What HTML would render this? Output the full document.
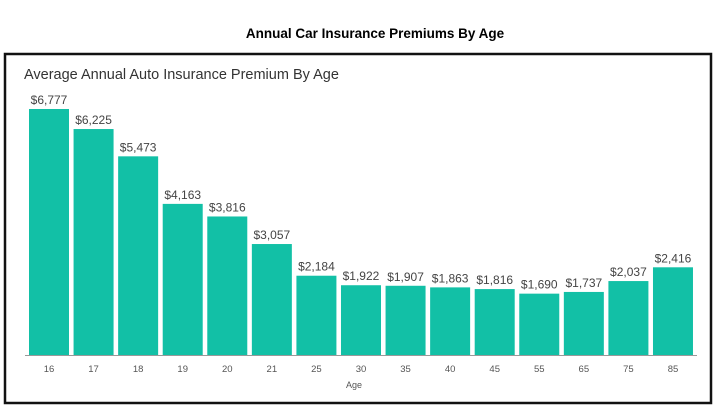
<!DOCTYPE html>
<html><head><style>
body{margin:0;background:#fff;width:720px;height:407px;overflow:hidden;font-family:"Liberation Sans",sans-serif}
</style></head><body>
<svg width="720" height="407" xmlns="http://www.w3.org/2000/svg" font-family="Liberation Sans, sans-serif">
<text x="375" y="38" text-anchor="middle" font-size="13.5" font-weight="bold" fill="#000">Annual Car Insurance Premiums By Age</text>
<rect x="5" y="54" width="706" height="349" fill="#fff" stroke="#111" stroke-width="2.5"/>
<text x="24" y="79" font-size="14.5" fill="#333">Average Annual Auto Insurance Premium By Age</text>
<line x1="25" y1="355.5" x2="697" y2="355.5" stroke="#999" stroke-width="1"/>
<g id="bars"></g>
<text x="354" y="388" text-anchor="middle" font-size="9" fill="#555">Age</text>
</svg>
<script>
var v=[6777,6225,5473,4163,3816,3057,2184,1922,1907,1863,1816,1690,1737,2037,2416];
var a=[16,17,18,19,20,21,25,30,35,40,45,55,65,75,85];
var g=document.getElementById('bars'),s='';
for(var i=0;i<15;i++){var x=29+i*44.57,h=v[i]*0.0363,y=355-h;
s+='<rect x="'+x+'" y="'+y+'" width="40" height="'+h+'" fill="#12c0a6"/>';
s+='<text x="'+(x+20)+'" y="'+(y-5)+'" text-anchor="middle" font-size="12" fill="#444">$'+v[i].toLocaleString('en-US')+'</text>';
s+='<text x="'+(x+20)+'" y="372" text-anchor="middle" font-size="9.5" fill="#555">'+a[i]+'</text>';}
g.innerHTML=s;
</script>
</body></html>
